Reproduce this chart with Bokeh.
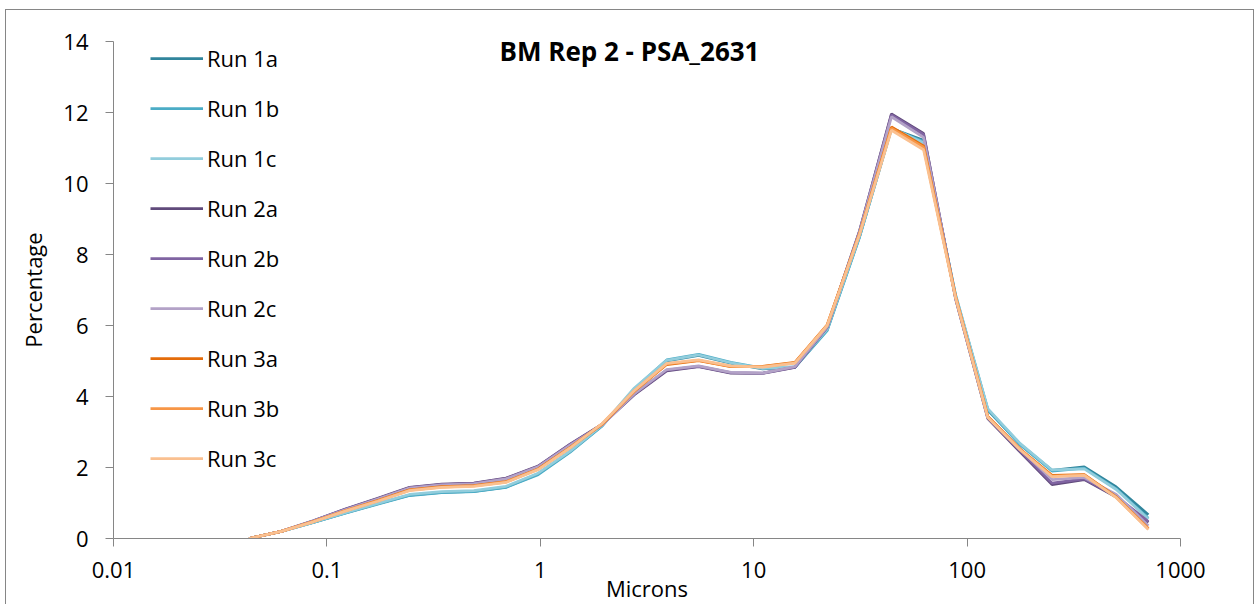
from bokeh.plotting import figure
from bokeh.models import Range1d, FixedTicker, CustomJSTickFormatter, Legend, LegendItem, Label
from bokeh.embed import file_html
from bokeh.resources import INLINE

microns = [0.0432, 0.0611, 0.0864, 0.122, 0.173, 0.244, 0.345, 0.488, 0.691, 0.977,
           1.38, 1.95, 2.76, 3.91, 5.52, 7.81, 11.0, 15.6, 22.1, 31.3,
           44.2, 62.5, 88.4, 125, 177, 250, 354, 500, 707]

run_1a = [0, 0.2, 0.45, 0.72, 0.98, 1.22, 1.30, 1.33, 1.45, 1.82, 2.45, 3.18, 4.20, 5.00, 5.16, 4.94, 4.78, 4.83, 5.88, 8.50, 11.55, 11.22, 6.82, 3.62, 2.66, 1.92, 2.02, 1.45, 0.67]
run_1b = [0, 0.2, 0.45, 0.71, 0.97, 1.21, 1.29, 1.32, 1.44, 1.80, 2.43, 3.17, 4.22, 5.03, 5.19, 4.96, 4.80, 4.82, 5.86, 8.48, 11.53, 11.18, 6.84, 3.64, 2.64, 1.90, 1.98, 1.40, 0.57]
run_1c = [0, 0.2, 0.46, 0.73, 0.99, 1.24, 1.32, 1.35, 1.47, 1.84, 2.46, 3.19, 4.24, 5.02, 5.17, 4.95, 4.79, 4.84, 5.90, 8.52, 11.56, 11.15, 6.86, 3.66, 2.68, 1.93, 1.96, 1.38, 0.55]
run_2a = [0, 0.2, 0.50, 0.83, 1.13, 1.44, 1.53, 1.56, 1.70, 2.04, 2.66, 3.22, 4.05, 4.72, 4.84, 4.66, 4.65, 4.82, 5.96, 8.66, 11.96, 11.41, 6.74, 3.38, 2.44, 1.52, 1.66, 1.17, 0.45]
run_2b = [0, 0.2, 0.50, 0.82, 1.12, 1.43, 1.52, 1.55, 1.69, 2.03, 2.65, 3.21, 4.07, 4.74, 4.85, 4.67, 4.66, 4.83, 5.95, 8.64, 11.93, 11.38, 6.76, 3.40, 2.47, 1.56, 1.68, 1.19, 0.48]
run_2c = [0, 0.2, 0.49, 0.81, 1.11, 1.42, 1.51, 1.54, 1.68, 2.02, 2.63, 3.20, 4.08, 4.76, 4.86, 4.68, 4.66, 4.84, 5.97, 8.62, 11.88, 11.30, 6.78, 3.42, 2.52, 1.66, 1.72, 1.24, 0.36]
run_3a = [0, 0.2, 0.48, 0.78, 1.07, 1.37, 1.46, 1.49, 1.60, 1.96, 2.57, 3.22, 4.15, 4.90, 5.01, 4.84, 4.85, 4.96, 6.02, 8.58, 11.59, 11.06, 6.80, 3.44, 2.52, 1.78, 1.80, 1.17, 0.28]
run_3b = [0, 0.2, 0.48, 0.78, 1.06, 1.36, 1.45, 1.48, 1.59, 1.95, 2.56, 3.23, 4.16, 4.92, 5.02, 4.85, 4.84, 4.95, 6.01, 8.57, 11.56, 11.02, 6.79, 3.43, 2.51, 1.76, 1.79, 1.16, 0.27]
run_3c = [0, 0.2, 0.47, 0.77, 1.05, 1.35, 1.44, 1.47, 1.58, 1.94, 2.55, 3.24, 4.17, 4.93, 5.03, 4.86, 4.83, 4.94, 6.00, 8.56, 11.50, 10.95, 6.77, 3.41, 2.50, 1.74, 1.78, 1.15, 0.25]

series_names = ["Run 1a", "Run 1b", "Run 1c", "Run 2a", "Run 2b", "Run 2c", "Run 3a", "Run 3b", "Run 3c"]
series_values = [run_1a, run_1b, run_1c, run_2a, run_2b, run_2c, run_3a, run_3b, run_3c]
series_colors = ["#31859C", "#4BACC6", "#92CDDC", "#604A7B", "#8064A2", "#B3A2C7", "#E46C0A", "#F79646", "#FAC090"]

y_ticks = [0, 2, 4, 6, 8, 10, 12, 14]
x_ticks = [0.01, 0.1, 1, 10, 100, 1000]

FONT = "Open Sans"
AXIS_COLOR = "#868686"
FS = "22px"

p = figure(width=1249, height=595, x_axis_type="log",
           x_range=Range1d(0.01, 1000), y_range=Range1d(0, 14),
           output_backend="svg", toolbar_location=None,
           min_border_left=107, min_border_right=75, min_border_top=31, min_border_bottom=66,
           styles={"margin-left": "5px", "margin-top": "9px",
                   "border-left": "1px solid #868686", "border-top": "1px solid #868686",
                   "border-right": "1px solid #868686"})
p.outline_line_color = None
p.grid.visible = False

items = []
for name, vals, col in zip(series_names, series_values, series_colors):
    r = p.line(microns, vals, line_color=col, line_width=2.75)
    items.append(LegendItem(label=name, renderers=[r]))

legend = Legend(items=items, location=(37, 65), padding=0, margin=0, spacing=20,
                label_height=30, glyph_height=30, glyph_width=53, label_standoff=4,
                border_line_color=None, background_fill_alpha=0,
                label_text_font=FONT, label_text_font_size=FS, label_text_color="#000000")
p.add_layout(legend)

p.xaxis.ticker = FixedTicker(ticks=x_ticks, minor_ticks=[])
p.xaxis.formatter = CustomJSTickFormatter(code="return tick.toString();")
p.yaxis.ticker = FixedTicker(ticks=y_ticks, minor_ticks=[])

for ax in (p.xaxis[0], p.yaxis[0]):
    ax.axis_line_color = AXIS_COLOR
    ax.major_tick_line_color = AXIS_COLOR
    ax.major_tick_out = 8
    ax.major_tick_in = 0
    ax.minor_tick_line_color = None
    ax.major_label_text_font = FONT
    ax.major_label_text_font_size = FS
    ax.major_label_text_color = "#000000"
    ax.axis_label_text_font = FONT
    ax.axis_label_text_font_size = FS
    ax.axis_label_text_font_style = "normal"
    ax.axis_label_text_color = "#000000"

p.xaxis.axis_label = "Microns"
p.yaxis.axis_label = "Percentage"
p.xaxis.major_label_standoff = 15
p.xaxis.axis_label_standoff = -8
p.yaxis.major_label_standoff = 17
p.yaxis.axis_label_standoff = 12

title = Label(x=516, y=488, x_units="screen", y_units="screen", text="BM Rep 2 - PSA_2631",
              text_font=FONT, text_font_size="26px", text_font_style="bold",
              text_align="center", text_baseline="middle", text_color="#000000")
p.add_layout(title)

open("out.html", "w").write(file_html(p, INLINE))
